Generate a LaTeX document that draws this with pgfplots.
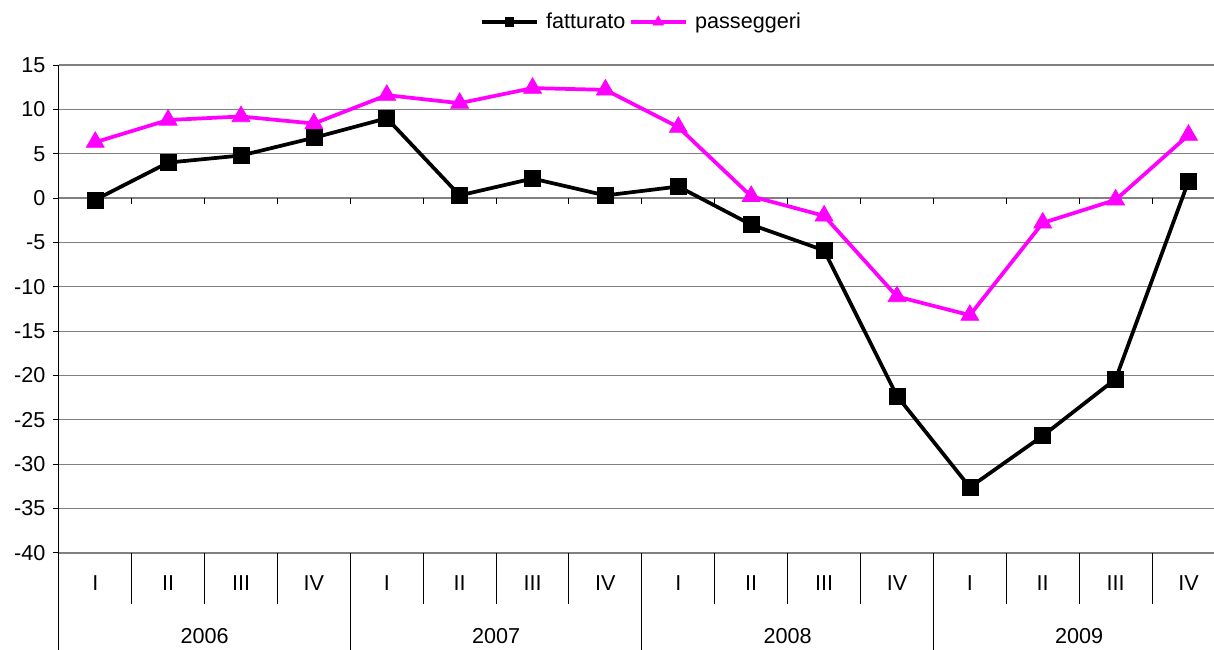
\documentclass[border=0pt]{standalone}
\usepackage{pgfplots}
\pgfplotsset{compat=1.18}
\usepackage{pgfplotstable}
\usepackage{fontspec}
\setmainfont{Liberation Sans}
\definecolor{mag}{RGB}{255,0,255}
\definecolor{gridg}{RGB}{128,128,128}

\pgfplotstableread{
x fatt pass
0  -0.2  6.3
1   4.0  8.8
2   4.8  9.2
3   6.8  8.4
4   9.0 11.6
5   0.3 10.7
6   2.2 12.4
7   0.3 12.2
8   1.3  8.0
9  -3.0  0.2
10 -5.9 -2.0
11 -22.3 -11.1
12 -32.6 -13.2
13 -26.8 -2.8
14 -20.4 -0.2
15  1.9  7.1
}\datatable

\begin{document}
\begin{tikzpicture}[font=\fontsize{16.2}{19}\selectfont]
\begin{axis}[
  scale only axis, width=874.8pt, height=366pt,
  xmin=-0.5, xmax=15.5, ymin=-40, ymax=15,
  ytick={-40,-35,...,15},
  hide x axis,
  axis y line*=left,
  y axis line style={black, line width=0.75pt, -},
  ymajorgrids,
  major grid style={gridg, line width=0.9pt},
  tick align=outside,
  major tick length=4.5pt,
  ytick style={black, line width=0.75pt},
  /pgf/number format/assume math mode=true,
  yticklabel style={font=\fontsize{16.2}{19}\selectfont, xshift=-2pt},
  clip=false,
  legend columns=2,
  legend style={draw=none, fill=none, at={(0.5,1.088)}, anchor=center,
    font=\fontsize{16.2}{19}\selectfont, column sep=0pt, inner sep=0pt,
    /tikz/every odd column/.append style={column sep=4pt},
    /tikz/every even column/.append style={column sep=1pt}},
  legend image code/.code={\draw[mark repeat=2,mark phase=2,#1] plot coordinates {(0pt,0pt)(20.5pt,0pt)(41pt,0pt)};},
]
\addplot[black, line width=2.8pt, mark=square*, mark size=6pt, mark options={solid, line width=0.5pt},
  legend image post style={mark size=3.2pt, line width=2.4pt}] table[x=x,y=fatt] {\datatable};
\addlegendentry{fatturato}
\addplot[mag, line width=2.8pt, mark=triangle*, mark size=7.8pt, mark options={solid, line width=0.5pt},
  legend image post style={mark size=4.6pt, line width=2.4pt}] table[x=x,y=pass] {\datatable};
\addlegendentry{passeggeri}

% ticks on zero line
\pgfplotsinvokeforeach{0.5,1.5,2.5,3.5,4.5,5.5,6.5,7.5,8.5,9.5,10.5,11.5,12.5,13.5,14.5}{
  \draw[black, line width=0.75pt] (axis cs:#1,0) -- ([yshift=-4.5pt]axis cs:#1,0);
}
% quarter separators
\pgfplotsinvokeforeach{0.5,1.5,2.5,4.5,5.5,6.5,8.5,9.5,10.5,12.5,13.5,14.5}{
  \draw[black, line width=0.75pt] (axis cs:#1,-40) -- (axis cs:#1,-45.75);
}
% year separators
\pgfplotsinvokeforeach{-0.5,3.5,7.5,11.5}{
  \draw[black, line width=0.75pt] (axis cs:#1,-40) -- (axis cs:#1,-50.93);
}
% quarter labels
\pgfplotsinvokeforeach{0,4,8,12}{
  \node at (axis cs:#1,-43.38) {I};
}
\pgfplotsinvokeforeach{1,5,9,13}{
  \node at (axis cs:#1,-43.38) {II};
}
\pgfplotsinvokeforeach{2,6,10,14}{
  \node at (axis cs:#1,-43.38) {III};
}
\pgfplotsinvokeforeach{3,7,11,15}{
  \node at (axis cs:#1,-43.38) {IV};
}
% year labels
\node at (axis cs:1.5,-49.35) {2006};
\node at (axis cs:5.5,-49.35) {2007};
\node at (axis cs:9.5,-49.35) {2008};
\node at (axis cs:13.5,-49.35) {2009};
\coordinate (bbA) at (axis cs:-1.307,22.33);
\coordinate (bbB) at (axis cs:15.35,-50.93);
\end{axis}
\pgfresetboundingbox
\path[use as bounding box] (bbA) rectangle (bbB);
\end{tikzpicture}
\end{document}
